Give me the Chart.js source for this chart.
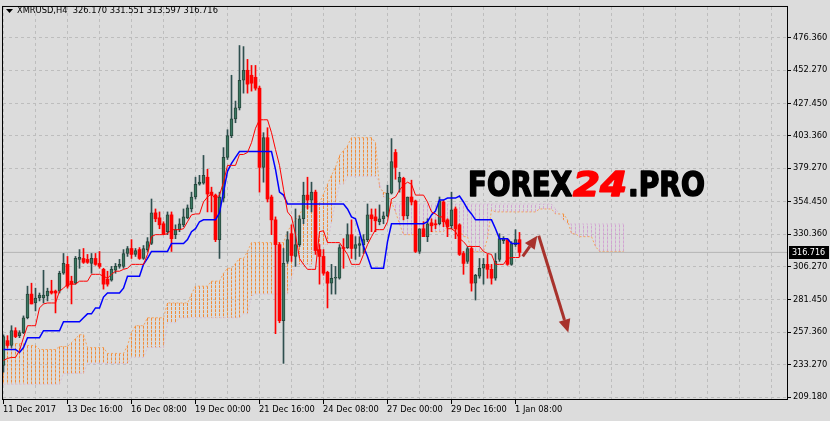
<!DOCTYPE html>
<html>
<head>
<meta charset="utf-8">
<script src="https://cdn.jsdelivr.net/npm/chart.js@4.4.1/dist/chart.umd.min.js"></script>
<style>
  html, body { margin: 0; padding: 0; background: #dcdcdc; }
  #wrap { width: 830px; height: 421px; }
</style>
</head>
<body>
<div id="wrap"><canvas id="chart" width="830" height="421"></canvas></div>
<script>
// XMRUSD H4 bars from 11 Dec 2017 00:00, one entry per 4h bar
const opens = [
  232.7, 251.1, 247.5, 258.5, 254.8, 257.0, 268.1, 285.7, 279.1, 282.8,
  282.8, 284.3, 287.9, 287.9, 287.9, 301.2, 307.8, 295.3, 293.8, 311.5,
  312.2, 311.5, 308.5, 312.2, 308.5, 304.1, 296.8, 296.0, 303.4, 306.3,
  306.3, 315.9, 319.6, 315.2, 318.8, 312.2, 318.8, 323.3, 346.1, 342.4,
  338.0, 332.1, 344.6, 329.9, 333.6, 337.2, 342.4, 349.0, 357.9, 367.4,
  368.2, 372.6, 361.5, 359.3, 326.2, 357.1, 387.3, 403.5, 416.0, 424.1,
  444.7, 452.1, 448.4, 446.9, 438.8, 379.9, 402.0, 357.9, 340.9, 322.5,
  265.9, 310.0, 330.6, 313.7, 322.5, 341.7, 359.3, 355.6, 361.5, 318.8,
  313.7, 301.9, 293.8, 297.5, 297.5, 320.3, 320.3, 329.9, 319.6, 321.8,
  322.5, 326.2, 344.6, 343.1, 339.5, 341.7, 343.9, 360.8, 391.0, 368.9,
  371.8, 343.9, 357.9, 354.9, 317.4, 334.3, 328.4, 338.7, 338.0, 338.0,
  354.2, 340.9, 336.5, 349.0, 337.2, 315.9, 310.0, 319.6, 293.8, 299.0,
  304.9, 307.8, 304.1, 297.5, 311.5, 325.5, 326.2, 307.8, 322.5, 326.17
];
const highs = [
  255.5, 254.8, 262.2, 260.7, 258.5, 269.5, 291.6, 293.8, 290.1, 286.5,
  303.4, 290.1, 296.0, 288.7, 302.7, 315.9, 313.7, 299.0, 313.7, 318.8,
  319.6, 315.2, 315.9, 315.9, 317.4, 304.9, 302.7, 306.3, 308.5, 311.5,
  318.8, 321.1, 326.2, 319.6, 320.3, 321.8, 327.7, 356.4, 349.0, 346.8,
  339.5, 346.8, 346.8, 337.2, 341.7, 349.0, 352.0, 361.5, 372.6, 374.0,
  388.8, 378.5, 365.2, 360.1, 361.5, 394.6, 407.9, 448.4, 429.2, 470.5,
  469.7, 460.2, 455.7, 455.7, 440.3, 405.7, 409.4, 359.3, 343.1, 324.0,
  319.6, 332.1, 337.2, 349.0, 343.9, 368.9, 372.6, 368.9, 363.0, 322.5,
  318.8, 302.7, 307.8, 306.3, 322.5, 326.9, 338.0, 340.9, 328.4, 328.4,
  329.9, 352.7, 349.0, 349.0, 352.0, 346.8, 366.7, 401.3, 393.2, 376.3,
  372.6, 357.9, 370.4, 355.6, 334.3, 339.5, 341.7, 341.7, 340.9, 357.9,
  355.6, 341.7, 361.5, 350.5, 338.0, 317.4, 321.1, 321.1, 300.4, 312.2,
  312.2, 315.2, 307.8, 315.9, 330.6, 328.4, 326.9, 324.7, 333.6, 331.551
];
const lows = [
  227.6, 246.0, 246.0, 253.3, 253.3, 256.3, 267.3, 278.4, 273.2, 280.6,
  279.1, 280.6, 285.7, 271.7, 286.5, 300.4, 290.1, 278.4, 293.1, 304.9,
  308.5, 308.5, 301.2, 307.1, 304.9, 289.4, 291.6, 295.3, 301.2, 304.9,
  304.9, 313.7, 312.2, 313.7, 311.5, 311.5, 317.4, 322.5, 339.5, 334.3,
  329.9, 329.9, 317.4, 326.9, 332.1, 335.8, 341.7, 346.8, 356.4, 366.7,
  367.4, 346.8, 346.8, 324.7, 312.2, 354.2, 385.8, 402.0, 413.1, 422.6,
  435.1, 435.1, 436.6, 437.3, 361.5, 368.9, 354.2, 329.9, 256.3, 264.4,
  234.2, 308.5, 310.0, 306.3, 321.1, 338.0, 349.0, 346.8, 315.2, 293.1,
  299.7, 275.4, 285.7, 285.7, 296.8, 304.9, 319.6, 312.2, 311.5, 313.7,
  315.9, 324.7, 332.1, 332.1, 337.2, 338.0, 343.1, 360.1, 371.1, 361.5,
  340.9, 341.7, 352.0, 316.6, 315.9, 328.4, 324.7, 332.1, 334.3, 337.2,
  335.8, 328.4, 334.3, 326.9, 314.4, 300.4, 308.5, 287.9, 281.3, 297.5,
  293.1, 297.5, 293.1, 296.0, 310.0, 323.3, 307.1, 307.1, 321.1, 313.597
];
const closes = [
  254.1, 247.5, 258.5, 254.1, 257.0, 268.1, 285.7, 278.4, 282.8, 285.0,
  285.0, 287.9, 286.5, 286.5, 301.2, 308.5, 291.6, 293.1, 312.2, 313.0,
  309.3, 309.3, 312.2, 307.8, 306.3, 293.1, 293.1, 304.1, 306.3, 307.8,
  315.9, 319.6, 315.2, 318.1, 312.2, 319.6, 324.7, 346.1, 341.7, 337.2,
  330.6, 344.6, 326.9, 333.6, 338.0, 343.1, 349.8, 357.9, 367.4, 368.9,
  374.0, 360.1, 359.3, 326.2, 357.9, 387.3, 403.5, 416.0, 424.1, 444.7,
  452.1, 441.8, 442.5, 438.8, 379.9, 402.0, 356.4, 340.9, 322.5, 265.9,
  308.5, 326.2, 314.4, 322.5, 341.7, 359.3, 355.6, 361.5, 318.1, 313.7,
  301.2, 293.8, 297.5, 298.2, 320.3, 319.6, 329.9, 319.6, 322.5, 323.3,
  326.2, 344.6, 341.7, 340.2, 341.7, 343.9, 360.8, 384.3, 379.9, 372.6,
  343.9, 357.9, 354.2, 317.4, 334.3, 328.4, 338.0, 336.5, 337.2, 354.9,
  339.5, 335.8, 348.3, 334.3, 315.2, 308.5, 319.6, 293.8, 299.7, 304.9,
  307.8, 304.1, 297.5, 310.0, 326.9, 326.9, 307.8, 323.3, 326.2, 316.716
];

// Ichimoku: Tenkan-sen (red), Kijun-sen (blue)
const tenkan = [
  236.4, 237.9, 238.6, 238.6, 243.8, 253.3, 262.2, 262.2, 262.2, 275.4,
  278.4, 279.1, 279.1, 279.1, 287.9, 290.1, 293.1, 293.1, 293.1, 295.3,
  295.3, 295.3, 300.4, 300.4, 300.4, 299.0, 297.5, 300.4, 302.7, 302.7,
  304.1, 304.9, 307.8, 307.8, 307.8, 307.8, 315.2, 328.4, 329.9, 329.9,
  329.9, 330.6, 333.6, 333.6, 333.6, 334.3, 339.5, 344.6, 345.3, 345.3,
  354.2, 357.9, 360.1, 356.4, 359.3, 368.9, 381.4, 381.4, 381.4, 389.5,
  389.5, 391.0, 398.3, 409.0, 415.3, 415.3, 415.3, 405.7, 393.2, 381.4,
  363.7, 346.8, 343.1, 329.9, 312.2, 307.8, 304.1, 304.1, 304.1, 332.1,
  332.8, 324.0, 324.0, 324.0, 324.0, 319.6, 315.2, 307.8, 307.8, 307.8,
  315.2, 322.5, 328.4, 333.6, 333.6, 333.6, 339.5, 356.4, 357.9, 363.0,
  366.7, 368.9, 367.4, 359.3, 359.3, 359.3, 354.2, 346.8, 345.3, 343.1,
  343.1, 334.3, 334.3, 332.1, 326.9, 324.7, 321.1, 321.1, 321.1, 321.1,
  317.4, 315.9, 315.2, 307.8, 307.8, 307.8, 312.2, 312.9, 312.9, 312.9
];
const kijun = [
  244.5, 244.5, 244.5, 244.5, 242.3, 246.0, 253.3, 253.3, 253.3, 253.3,
  258.5, 258.5, 258.5, 258.5, 258.5, 265.1, 265.1, 265.1, 265.1, 265.1,
  268.1, 271.0, 271.0, 275.4, 275.4, 283.5, 286.5, 286.5, 286.5, 286.5,
  290.1, 299.0, 299.0, 299.0, 299.0, 307.8, 312.2, 317.4, 317.4, 317.4,
  317.4, 317.4, 323.3, 323.3, 323.3, 323.3, 326.2, 332.1, 334.3, 339.5,
  340.9, 340.9, 340.9, 340.9, 346.1, 361.5, 377.0, 382.9, 387.3, 391.7,
  391.7, 391.7, 391.7, 391.7, 391.7, 391.7, 391.7, 391.7, 378.5, 361.5,
  359.3, 352.7, 352.7, 352.7, 352.7, 352.7, 352.7, 352.7, 352.7, 352.7,
  352.7, 352.7, 352.7, 352.7, 352.7, 352.7, 349.0, 343.1, 341.7, 332.1,
  321.1, 313.7, 304.9, 304.9, 304.9, 304.9, 324.7, 338.0, 338.0, 338.0,
  338.0, 338.0, 338.0, 338.0, 338.0, 338.0, 339.5, 344.6, 347.5, 355.6,
  355.6, 357.1, 357.1, 357.1, 358.6, 354.2, 349.0, 345.3, 340.9, 340.9,
  340.9, 340.9, 340.9, 334.3, 326.9, 326.9, 326.9, 323.3, 323.3, 323.3
];
// Senkou Span A / B, already shifted 26 bars forward (ends 26 bars past the last candle)
const spanA = [
  248.9, 248.9, 248.9, 248.9, 248.9, 248.9, 247.5, 247.5, 247.5, 244.5,
  244.5, 244.5, 244.5, 244.5, 246.7, 246.7, 246.7, 249.7, 252.6, 255.5,
  255.5, 246.0, 246.0, 246.0, 246.0, 246.0, 241.6, 241.6, 241.6, 241.6,
  241.6, 247.5, 257.0, 262.2, 262.2, 262.2, 268.1, 268.1, 268.1, 268.1,
  268.1, 279.1, 279.1, 279.1, 279.1, 279.1, 279.1, 285.7, 291.6, 291.6,
  291.6, 291.6, 295.3, 295.3, 295.3, 301.2, 304.9, 304.9, 308.5, 312.2,
  312.2, 317.4, 324.0, 324.0, 324.0, 324.0, 324.0, 324.0, 324.0, 324.0,
  324.0, 332.1, 337.2, 340.9, 344.6, 350.5, 350.5, 350.5, 353.4, 353.4,
  360.1, 367.4, 374.0, 379.9, 388.8, 392.4, 396.1, 402.0, 402.0, 402.0,
  402.0, 402.0, 402.0, 398.3, 365.2, 361.5, 360.1, 354.2, 346.8, 338.0,
  329.9, 329.9, 329.9, 329.9, 329.9, 332.1, 332.1, 332.1, 332.1, 332.1,
  332.1, 335.8, 333.6, 333.6, 333.6, 328.4, 328.4, 317.4, 317.4, 317.4,
  317.4, 326.9, 348.3, 346.8, 346.8, 346.8, 346.8, 346.8, 346.8, 346.8,
  346.8, 346.8, 346.8, 346.8, 349.0, 349.0, 349.0, 349.0, 345.3, 345.3,
  345.3, 340.9, 330.6, 330.6, 328.4, 328.4, 328.4, 328.4, 321.1, 317.4,
  317.4, 317.4, 317.4, 317.4, 317.4, 317.4
];
const spanB = [
  218.7, 218.7, 218.7, 218.7, 218.7, 218.7, 218.7, 218.7, 218.7, 218.7,
  218.7, 218.7, 218.7, 218.7, 218.7, 226.8, 226.8, 226.8, 226.8, 226.8,
  226.8, 234.2, 234.2, 234.2, 234.2, 234.2, 234.2, 234.2, 234.2, 234.2,
  234.2, 234.2, 238.6, 238.6, 238.6, 238.6, 246.0, 246.0, 246.0, 246.0,
  246.0, 264.4, 264.4, 264.4, 268.1, 268.1, 268.1, 268.1, 268.1, 268.1,
  268.1, 268.1, 268.1, 268.1, 268.1, 268.1, 268.1, 268.1, 268.1, 268.1,
  271.0, 271.0, 284.3, 285.7, 285.7, 285.7, 285.7, 285.7, 285.7, 285.7,
  285.7, 285.7, 297.5, 307.8, 307.8, 307.8, 307.8, 307.8, 322.5, 322.5,
  322.5, 322.5, 339.5, 354.2, 367.4, 367.4, 373.3, 373.3, 373.3, 373.3,
  373.3, 373.3, 373.3, 373.3, 368.9, 357.9, 357.9, 352.7, 352.7, 352.7,
  352.7, 352.7, 352.7, 352.7, 352.7, 352.7, 352.7, 352.7, 352.7, 352.7,
  352.7, 352.7, 352.7, 352.7, 352.7, 352.7, 352.7, 352.7, 352.7, 352.7,
  352.7, 352.7, 352.7, 352.7, 352.7, 352.7, 352.7, 352.7, 352.7, 352.7,
  352.7, 352.7, 352.7, 352.7, 352.7, 352.7, 352.7, 352.7, 349.0, 345.3,
  340.9, 337.9, 337.9, 337.9, 337.9, 337.9, 337.9, 337.9, 337.9, 337.9,
  337.9, 337.9, 337.9, 337.9, 337.9, 337.9
];

const xLabels = ['11 Dec 2017', '13 Dec 16:00', '16 Dec 08:00', '19 Dec 00:00', '21 Dec 16:00',
                 '24 Dec 08:00', '27 Dec 00:00', '29 Dec 16:00', '1 Jan 08:00'];
const yTicks = [209.18, 233.27, 257.36, 281.45, 306.27, 330.36, 354.45, 379.27, 403.36, 427.45, 452.27, 476.36];
const lastPrice = 316.716;
const titleText = 'XMRUSD,H4  326.170 331.551 313.597 316.716';
// forecast arrows: [fromBar, fromPrice, toBar, toPrice]
const arrows = [[129.8, 313.7, 133.45, 329.1], [133.8, 329.1, 141.2, 257.2]];

const X_MIN = -0.125, X_MAX = 195.875;
const FONT = "'DejaVu Sans', sans-serif";
const UP_BODY = '#3a7862', UP_EDGE = '#26463b', UP_WICK = '#2f4f4f', DOWN = '#ff0000';
const SPAN_A = '#f4a460', SPAN_B = '#d8bfd8';
const HATCH_UP = '#f08c3a', HATCH_DOWN = '#d2a4d2';

const bars = opens.map((_, i) => i);
const cloudBars = spanA.map((_, i) => i);
const isUp = i => closes[i] >= opens[i];

// cloud histogram: one dotted vertical stroke per bar between span A and span B
const cloudColumns = [];
cloudBars.forEach(i => {
  cloudColumns.push({x: i, y: spanA[i]}, {x: i, y: spanB[i]}, {x: i, y: null});
});

// x grid every 8 bars, labels every 16 bars
const xGrid = [];
for (let k = 0; k <= 24; k++) xGrid.push(8 * k - 0.125);

const overlay = {
  id: 'overlay',
  beforeDraw(chart) {
    const c = chart.ctx;
    c.save();
    c.fillStyle = '#dcdcdc';
    c.fillRect(0, 0, chart.width, chart.height);
    c.restore();
  },
  afterDraw(chart) {
    const c = chart.ctx;
    const {x, y} = chart.scales;
    const a = chart.chartArea;
    c.save();
    // frame
    c.strokeStyle = '#000';
    c.lineWidth = 1;
    c.strokeRect(a.left - 0.5, a.top - 0.5, a.right - a.left + 1, a.bottom - a.top + 1);

    // watermark: [text, colour, font style, left x, width]
    const parts = [['FOREX', '#000', 'bold', 468, 104], ['24', '#ff0000', 'italic bold', 573, 54],
                   ['.PRO', '#000', 'bold', 628, 77]];
    c.textBaseline = 'alphabetic';
    c.lineJoin = 'round';
    parts.forEach(p => {
      c.save();
      c.font = p[2] + ' 33px ' + FONT;
      const w = c.measureText(p[0]).width;
      c.translate(p[3], 196);
      c.scale(p[4] / w, 1);
      c.lineWidth = 1.6;
      c.strokeStyle = p[1];
      c.strokeText(p[0], 0, 0);
      c.fillStyle = p[1];
      c.fillText(p[0], 0, 0);
      c.restore();
    });

    // arrows
    c.strokeStyle = c.fillStyle = '#a8322c';
    c.lineWidth = 3;
    c.lineCap = 'butt';
    arrows.forEach(ar => {
      const x1 = x.getPixelForValue(ar[0]), y1 = y.getPixelForValue(ar[1]);
      const x2 = x.getPixelForValue(ar[2]), y2 = y.getPixelForValue(ar[3]);
      const ang = Math.atan2(y2 - y1, x2 - x1);
      const head = 13, half = 6;
      const bx = x2 - head * Math.cos(ang), by = y2 - head * Math.sin(ang);
      c.beginPath(); c.moveTo(x1, y1); c.lineTo(bx, by); c.stroke();
      c.beginPath();
      c.moveTo(x2, y2);
      c.lineTo(bx + half * Math.sin(ang), by - half * Math.cos(ang));
      c.lineTo(bx - half * Math.sin(ang), by + half * Math.cos(ang));
      c.closePath(); c.fill();
    });

    // title
    c.fillStyle = '#000';
    c.beginPath(); c.moveTo(6, 9); c.lineTo(13, 9); c.lineTo(9.5, 13); c.closePath(); c.fill();
    c.font = '8.3px ' + FONT;
    c.textBaseline = 'middle';
    c.textAlign = 'left';
    c.fillText(titleText, 17, 11);

    // last price label
    const py = y.getPixelForValue(lastPrice);
    c.fillStyle = '#000';
    c.fillRect(789, Math.round(py) - 6, 40, 13);
    c.fillStyle = '#fff';
    c.font = '8px ' + FONT;
    c.fillText(lastPrice.toFixed(3), 792, Math.round(py) + 0.5);
    c.restore();
  }
};

new Chart(document.getElementById('chart'), {
  type: 'bar',
  data: {
    datasets: [
      { type: 'line', label: 'Tenkan-sen', data: bars.map(i => ({x: i, y: tenkan[i]})),
        borderColor: '#ff0000', borderWidth: 1, pointRadius: 0, fill: false, order: 1 },
      { type: 'line', label: 'Kijun-sen', data: bars.map(i => ({x: i, y: kijun[i]})),
        borderColor: '#0000ff', borderWidth: 1.5, pointRadius: 0, fill: false, order: 2 },
      { type: 'bar', label: 'body', data: bars.map(i => ({x: i, y: [opens[i], closes[i]]})),
        backgroundColor: bars.map(i => isUp(i) ? UP_BODY : DOWN),
        borderColor: bars.map(i => isUp(i) ? UP_EDGE : DOWN),
        borderWidth: bars.map(i => isUp(i) ? 1 : 0),
        borderSkipped: false, barThickness: 3, grouped: false, minBarLength: 1, order: 3 },
      { type: 'bar', label: 'wick', data: bars.map(i => ({x: i, y: [lows[i], highs[i]]})),
        backgroundColor: bars.map(i => isUp(i) ? UP_WICK : DOWN),
        borderWidth: 0, barThickness: 1, grouped: false, order: 4 },
      { type: 'line', label: 'price', data: [{x: X_MIN, y: lastPrice}, {x: X_MAX, y: lastPrice}],
        borderColor: '#b4b4b4', borderWidth: 1, pointRadius: 0, fill: false, order: 5 },
      { type: 'line', label: 'Senkou Span A', data: cloudBars.map(i => ({x: i, y: spanA[i]})),
        borderColor: SPAN_A, borderWidth: 1, borderDash: [2, 2], pointRadius: 0, fill: false, order: 6 },
      { type: 'line', label: 'Senkou Span B', data: cloudBars.map(i => ({x: i, y: spanB[i]})),
        borderColor: SPAN_B, borderWidth: 1, borderDash: [2, 2], pointRadius: 0, fill: false, order: 7 },
      { type: 'line', label: 'cloud', data: cloudColumns, spanGaps: false,
        borderColor: HATCH_UP, borderWidth: 1, borderDash: [3, 1], pointRadius: 0, fill: false, order: 8,
        segment: {
          borderColor: c => {
            const i = Math.floor(c.p0DataIndex / 3);
            return spanA[i] >= spanB[i] ? HATCH_UP : HATCH_DOWN;
          }
        } }
    ]
  },
  options: {
    responsive: false,
    animation: false,
    events: [],
    layout: { padding: { left: 3, top: 3, right: 0, bottom: 0 } },
    plugins: { legend: { display: false }, tooltip: { enabled: false } },
    scales: {
      x: {
        type: 'linear',
        min: X_MIN,
        max: X_MAX,
        offset: false,
        afterBuildTicks: s => { s.ticks = xGrid.map(v => ({value: v})); },
        afterFit: s => { s.height = 22; },
        grid: {
          offset: false,
          color: '#bdbdbd',
          borderDash: [3, 3],
          tickLength: 5,
          tickColor: c => (c.index % 2 === 0 && c.index / 2 < xLabels.length) ? '#000' : 'rgba(0,0,0,0)'
        },
        border: { display: false, dash: [3, 3] },
        ticks: {
          autoSkip: false,
          maxRotation: 0,
          minRotation: 0,
          align: 'start',
          padding: 1,
          color: '#000',
          font: { family: FONT, size: 8.3 },
          callback: (v, i) => (i % 2 === 0 && xLabels[i / 2]) ? xLabels[i / 2] : ''
        }
      },
      y: {
        type: 'linear',
        position: 'right',
        min: 207.71,
        max: 499.16,
        beginAtZero: false,
        afterBuildTicks: s => { s.ticks = yTicks.map(v => ({value: v})); },
        afterFit: s => { s.width = 43; },
        grid: { color: '#bdbdbd', borderDash: [3, 3], tickLength: 4, tickColor: '#000' },
        border: { display: false, dash: [3, 3] },
        ticks: {
          padding: 2,
          color: '#000',
          font: { family: FONT, size: 8.3 },
          callback: v => Number(v).toFixed(3)
        }
      }
    }
  },
  plugins: [overlay]
});
</script>
</body>
</html>
